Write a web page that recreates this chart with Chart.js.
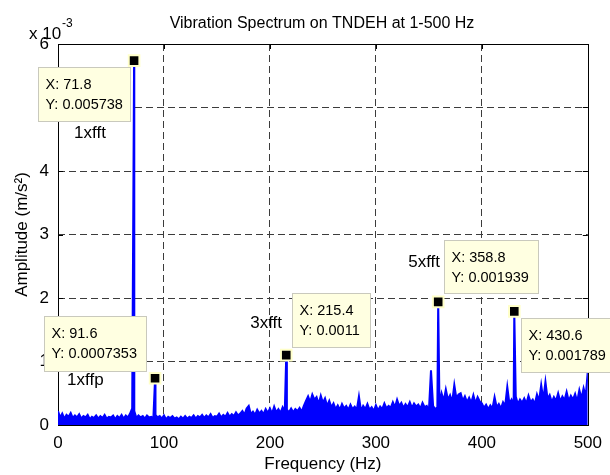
<!DOCTYPE html>
<html>
<head>
<meta charset="utf-8">
<script src="https://cdn.jsdelivr.net/npm/chart.js@4/dist/chart.umd.min.js"></script>
<style>
  body { margin: 0; background: #fff; }
  canvas { display: block; }
</style>
</head>
<body>
<canvas id="spectrum" width="610" height="475"></canvas>
<script>
// spectrum noise floor (amplitude in units of 1e-3 m/s^2)
const noiseHz = [
  0, 2, 4, 6, 8, 10, 12, 14, 16, 18,
  20, 22, 24, 26, 28, 30, 32, 34, 36, 38,
  40, 42, 44, 46, 48, 50, 52, 54, 56, 58,
  60, 62, 64, 66, 68, 70, 72, 74, 76, 78,
  80, 82, 84, 86, 88, 90, 92, 94, 96, 98,
  100, 102, 104, 106, 108, 110, 112, 114, 116, 118,
  120, 122, 124, 126, 128, 130, 132, 134, 136, 138,
  140, 142, 144, 146, 148, 150, 152, 154, 156, 158,
  160, 162, 164, 166, 168, 170, 172, 174, 176, 178,
  180, 182, 184, 186, 188, 190, 192, 194, 196, 198,
  200, 202, 204, 206, 208, 210, 212, 214, 216, 218,
  220, 222, 224, 226, 228, 230, 232, 234, 236, 238,
  240, 242, 244, 246, 248, 250, 252, 254, 256, 258,
  260, 262, 264, 266, 268, 270, 272, 274, 276, 278,
  280, 282, 284, 286, 288, 290, 292, 294, 296, 298,
  300, 302, 304, 306, 308, 310, 312, 314, 316, 318,
  320, 322, 324, 326, 328, 330, 332, 334, 336, 338,
  340, 342, 344, 346, 348, 350, 352, 354, 356, 358,
  360, 362, 364, 366, 368, 370, 372, 374, 376, 378,
  380, 382, 384, 386, 388, 390, 392, 394, 396, 398,
  400, 402, 404, 406, 408, 410, 412, 414, 416, 418,
  420, 422, 424, 426, 428, 430, 432, 434, 436, 438,
  440, 442, 444, 446, 448, 450, 452, 454, 456, 458,
  460, 462, 464, 466, 468, 470, 472, 474, 476, 478,
  480, 482, 484, 486, 488, 490, 492, 494, 496, 498,
  500
];
const noiseAmp = [
  0.22, 0.12, 0.18, 0.10, 0.16, 0.13, 0.19, 0.11, 0.15, 0.12,
  0.17, 0.10, 0.14, 0.12, 0.16, 0.09, 0.13, 0.11, 0.15, 0.10,
  0.14, 0.11, 0.16, 0.10, 0.13, 0.12, 0.15, 0.09, 0.14, 0.11,
  0.16, 0.10, 0.15, 0.12, 0.18, 0.26, 0.22, 0.11, 0.15, 0.12,
  0.14, 0.10, 0.15, 0.12, 0.13, 0.11, 0.16, 0.12, 0.14, 0.10,
  0.15, 0.09, 0.13, 0.11, 0.14, 0.10, 0.12, 0.09, 0.13, 0.10,
  0.14, 0.10, 0.13, 0.11, 0.15, 0.10, 0.14, 0.12, 0.16, 0.11,
  0.15, 0.12, 0.17, 0.11, 0.14, 0.13, 0.18, 0.12, 0.16, 0.13,
  0.19, 0.13, 0.17, 0.14, 0.20, 0.15, 0.18, 0.22, 0.16, 0.26,
  0.30, 0.17, 0.21, 0.16, 0.24, 0.18, 0.22, 0.17, 0.25, 0.19,
  0.26, 0.18, 0.29, 0.20, 0.25, 0.19, 0.28, 0.21, 0.24, 0.20,
  0.26, 0.20, 0.25, 0.22, 0.27, 0.21, 0.30, 0.38, 0.45, 0.36,
  0.48, 0.40, 0.44, 0.33, 0.46, 0.35, 0.42, 0.30, 0.38, 0.28,
  0.34, 0.25, 0.31, 0.24, 0.33, 0.26, 0.30, 0.24, 0.32, 0.25,
  0.29, 0.24, 0.45, 0.22, 0.30, 0.25, 0.33, 0.24, 0.28, 0.22,
  0.31, 0.23, 0.29, 0.25, 0.34, 0.26, 0.30, 0.27, 0.36, 0.28,
  0.40, 0.30, 0.35, 0.27, 0.33, 0.28, 0.36, 0.27, 0.34, 0.29,
  0.32, 0.26, 0.35, 0.28, 0.30, 0.22, 0.86, 0.30, 0.25, 0.28,
  0.33, 0.50, 0.38, 0.56, 0.40, 0.47, 0.36, 0.63, 0.42, 0.48,
  0.50, 0.38, 0.45, 0.36, 0.43, 0.35, 0.47, 0.34, 0.44, 0.37,
  0.34, 0.27, 0.32, 0.25, 0.31, 0.26, 0.44, 0.28, 0.33, 0.26,
  0.36, 0.30, 0.60, 0.34, 0.40, 0.31, 0.45, 0.33, 0.40, 0.35,
  0.42, 0.34, 0.46, 0.36, 0.40, 0.33, 0.48, 0.38, 0.63, 0.40,
  0.68, 0.41, 0.47, 0.36, 0.44, 0.38, 0.50, 0.37, 0.45, 0.39,
  0.52, 0.38, 0.46, 0.40, 0.49, 0.37, 0.55, 0.42, 0.58, 0.45,
  0.85
];

// marked peaks (data tips)
const peakHz = [71.8, 91.6, 215.4, 358.8, 430.6];
const peakAmp = [5.738, 0.7353, 1.1, 1.939, 1.789];
const peakNames = ['1xfft', '1xffp', '3xfft', '5xfft', null];

const yTicks = [0, 1, 2, 3, 4, 5, 6];
const xTicks = [0, 100, 200, 300, 400, 500];

// layout of the tip boxes and labels, relative to the marker
const tipLayout = [
  { dx: -96, dy: 6, w: 92, h: 54, lx: -60, ly: 73 },
  { dx: -111, dy: -62, w: 102, h: 55, lx: -88, ly: 2 },
  { dx: 6, dy: -62, w: 78, h: 54, lx: -36, ly: -32 },
  { dx: 6, dy: -62, w: 94, h: 53, lx: -30, ly: -40 },
  { dx: 7, dy: 7, w: 100, h: 54 }
];

const FONT = 'Arial, "Liberation Sans", Helvetica, sans-serif';

const spectrum = noiseHz.map((f, i) => ({ x: f, y: noiseAmp[i] }))
  .concat(peakHz.map((f, i) => ({ x: f, y: peakAmp[i] })))
  .sort((a, b) => a.x - b.x);

const markers = peakHz.map((f, i) => ({ x: f, y: peakAmp[i] }));

const framePlugin = {
  id: 'frame',
  beforeDatasetsDraw(chart) {
    const { ctx, chartArea: a, scales } = chart;
    ctx.save();
    ctx.strokeStyle = '#000';
    ctx.lineWidth = 1;
    ctx.beginPath();
    xTicks.forEach(v => {
      const px = Math.round(scales.x.getPixelForValue(v)) + 0.5;
      ctx.moveTo(px, a.bottom); ctx.lineTo(px, a.bottom - 5);
      ctx.moveTo(px, a.top); ctx.lineTo(px, a.top + 5);
    });
    yTicks.forEach(v => {
      const py = Math.round(scales.y.getPixelForValue(v)) + 0.5;
      ctx.moveTo(a.left, py); ctx.lineTo(a.left + 5, py);
      ctx.moveTo(a.right, py); ctx.lineTo(a.right - 5, py);
    });
    ctx.stroke();
    ctx.strokeRect(Math.round(a.left) + 0.5, Math.round(a.top) + 0.5,
      Math.round(a.right - a.left), Math.round(a.bottom - a.top));
    ctx.restore();
  },
  afterDraw(chart) {
    const { ctx, chartArea: a } = chart;
    ctx.save();
    ctx.fillStyle = '#000';
    ctx.font = '16px ' + FONT;
    ctx.textAlign = 'center';
    ctx.textBaseline = 'alphabetic';
    ctx.fillText('Vibration Spectrum on TNDEH at 1-500 Hz', 322, 28);
    ctx.textAlign = 'left';
    ctx.font = '17px ' + FONT;
    ctx.fillText('x 10', 29, 39);
    ctx.font = '12px ' + FONT;
    ctx.fillText('-3', 62, 27);
    ctx.restore();
  }
};

const tipPlugin = {
  id: 'tips',
  afterDatasetsDraw(chart) {
    const { ctx, scales } = chart;
    ctx.save();
    peakHz.forEach((f, i) => {
      const mx = scales.x.getPixelForValue(f);
      const my = scales.y.getPixelForValue(peakAmp[i]);
      const t = tipLayout[i];
      const bx = Math.round(mx + t.dx) + 0.5;
      const by = Math.round(my + t.dy) + 0.5;
      ctx.fillStyle = '#ffffe1';
      ctx.strokeStyle = '#c9c9bd';
      ctx.lineWidth = 1;
      ctx.fillRect(bx, by, t.w, t.h);
      ctx.strokeRect(bx, by, t.w, t.h);
      ctx.fillStyle = '#000';
      ctx.font = '14.5px ' + FONT;
      ctx.textAlign = 'left';
      ctx.textBaseline = 'middle';
      const yText = parseFloat((peakAmp[i] / 1000).toPrecision(6));
      ctx.fillText('X: ' + f, bx + 7, by + 17.5);
      ctx.fillText('Y: ' + yText, bx + 7, by + 37.5);
      if (peakNames[i]) {
        ctx.font = '17px ' + FONT;
        ctx.fillText(peakNames[i], mx + t.lx, my + t.ly);
      }
    });
    ctx.restore();
  }
};

const gridStyle = {
  color: ctx => (ctx.tick && (ctx.index === 0 || ctx.index === ctx.chart.scales[ctx.scale.id].ticks.length - 1)) ? 'rgba(0,0,0,0)' : '#3c3c3c',
  lineWidth: 1,
  drawTicks: false
};

new Chart(document.getElementById('spectrum'), {
  type: 'line',
  data: {
    datasets: [
      {
        type: 'scatter',
        data: markers,
        pointStyle: 'rect',
        pointRadius: 7.5,
        pointBackgroundColor: '#000',
        pointBorderColor: '#ffffc8',
        pointBorderWidth: 2,
        order: 0
      },
      {
        data: spectrum,
        borderColor: '#0000ff',
        backgroundColor: '#0000ff',
        borderWidth: 2,
        pointRadius: 0,
        tension: 0,
        fill: 'origin',
        order: 1
      }
    ]
  },
  options: {
    responsive: false,
    animation: false,
    layout: { padding: { top: 44, right: 15, left: 0, bottom: 0 } },
    plugins: {
      legend: { display: false },
      tooltip: { enabled: false },
      title: { display: false }
    },
    scales: {
      x: {
        type: 'linear',
        min: 0,
        max: 500,
        afterFit: s => { s.height = 50; },
        afterBuildTicks: s => { s.ticks = xTicks.map(v => ({ value: v })); },
        ticks: { font: { size: 17, family: FONT }, color: '#000', padding: 8, maxRotation: 0 },
        grid: gridStyle,
        border: { display: false, dash: [7, 4] },
        title: { display: true, text: 'Frequency (Hz)', font: { size: 17, family: FONT }, color: '#000', padding: { top: 0, bottom: 0 } }
      },
      y: {
        type: 'linear',
        min: 0,
        max: 6,
        afterFit: s => { s.width = 58; },
        afterBuildTicks: s => { s.ticks = yTicks.map(v => ({ value: v })); },
        ticks: { font: { size: 17, family: FONT }, color: '#000', padding: 9 },
        grid: gridStyle,
        border: { display: false, dash: [7, 4] },
        title: { display: true, text: 'Amplitude (m/s²)', font: { size: 17, family: FONT }, color: '#000', padding: { top: 12, bottom: 0 } }
      }
    }
  },
  plugins: [framePlugin, tipPlugin]
});
</script>
</body>
</html>
